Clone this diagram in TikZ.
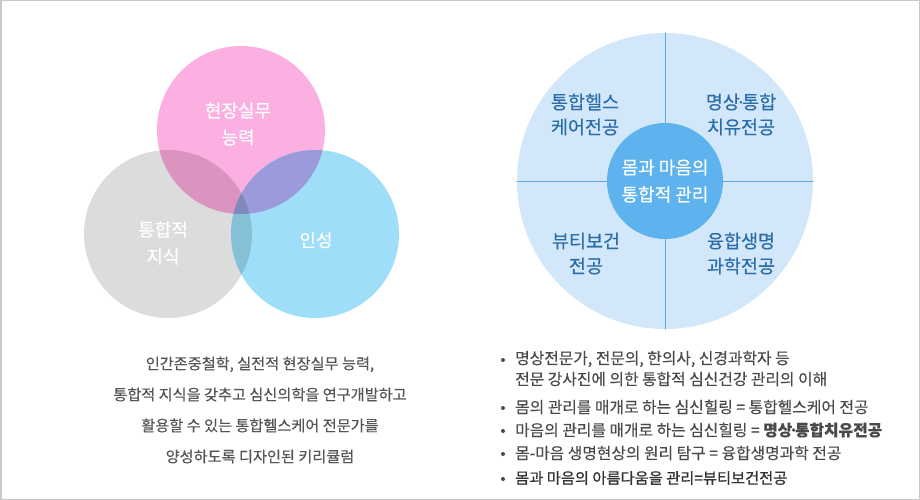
\documentclass[tikz,border=0pt]{standalone}
\usepackage{fontspec}
\usepackage{xcolor}
\setmainfont{Noto Sans CJK KR}[FakeBold=0.35]
\newfontfamily\krheavy{Noto Sans CJK KR}[FakeBold=0.9]
\definecolor{frameGrey}{HTML}{C8C8C8}
\definecolor{vennPink}{HTML}{FCB0E1}
\definecolor{vennGrey}{HTML}{DCDCDC}
\definecolor{vennBlue}{HTML}{9EDEF8}
\definecolor{pinkGrey}{HTML}{DB93C0}
\definecolor{pinkBlue}{HTML}{9B9BDB}
\definecolor{greyBlue}{HTML}{86C0D6}
\definecolor{allThree}{HTML}{8287BC}
\definecolor{wheelPale}{HTML}{D2E8FA}
\definecolor{wheelLine}{HTML}{5FA9E2}
\definecolor{wheelCore}{HTML}{5EB3EE}
\definecolor{wheelInk}{HTML}{2B6DA8}
\definecolor{captionInk}{HTML}{555555}
\definecolor{listInk}{HTML}{4A4A4A}
\tikzset{
  vennText/.style={text=white, align=center, inner sep=0pt, font=\fontsize{18}{27}\selectfont},
  quadText/.style={text=wheelInk, align=center, inner sep=0pt, font=\fontsize{18.5}{25}\selectfont},
  listText/.style={text=listInk, anchor=west, inner sep=0pt, font=\fontsize{15.8}{17}\selectfont},
  listDot/.style={circle, fill=listInk, inner sep=0pt, minimum size=4pt}
}
\newcommand{\middot}{\kern-.22em·\kern-.22em}

\begin{document}
\begin{tikzpicture}[x=1pt, y=-1pt, line cap=round, line join=round]
  \useasboundingbox (0,0) rectangle (920,500);
  % Outer frame
  \draw[frameGrey, line width=1.5pt] (0.75,0.75) rectangle (919.25,499.25);

  % Venn circles
  \fill[vennPink] (241,130) circle (84pt);
  \fill[vennGrey] (168,234) circle (84pt);
  \fill[vennBlue] (315,234) circle (84pt);
  % Overlaps
  \begin{scope}
    \clip (241,130) circle (84pt);
    \fill[pinkGrey] (168,234) circle (84pt);
    \fill[pinkBlue] (315,234) circle (84pt);
  \end{scope}
  \begin{scope}
    \clip (168,234) circle (84pt);
    \fill[greyBlue] (315,234) circle (84pt);
    \clip (241,130) circle (84pt);
    \fill[allThree] (315,234) circle (84pt);
  \end{scope}
  \node[vennText] (practice) at (238,124) {현장실무\\능력};
  \node[vennText] (knowledge) at (163,243) {통합적\\지식};
  \node[vennText] (character) at (316,240) {인성};

  % Caption under the Venn
  \node[text=captionInk, align=center, inner sep=0pt, font=\fontsize{15.2}{31}\selectfont]
    (caption) at (260,410) {인간존중철학, 실전적 현장실무 능력,\\
    통합적 지식을 갖추고 심신의학을 연구개발하고\\
    활용할 수 있는 통합헬스케어 전문가를\\
    양성하도록 디자인된 키리큘럼};

  % Wheel
  \node[circle, fill=wheelPale, minimum size=296pt, inner sep=0pt] (wheel) at (665,181) {};
  \draw[wheelLine, line width=0.8pt] (wheel.north) -- (wheel.south);
  \draw[wheelLine, line width=0.8pt] (wheel.west) -- (wheel.east);
  \node[circle, fill=wheelCore, minimum size=116pt, inner sep=0pt] (core) at (665,181) {};
  \node[vennText] (coreText) at (core) {몸과 마음의\\통합적 관리};
  \node[quadText] (healthcare) at (585,114.5) {통합헬스\\케어전공};
  \node[quadText] (meditation) at (741,114.5) {명상\middot 통합\\치유전공};
  \node[quadText] (beauty) at (586,253.5) {뷰티보건\\전공};
  \node[quadText] (lifesci) at (741,253.5) {융합생명\\과학전공};

  % Bullet list
  \node[listDot] (dotA) at (503,360) {};
  \node[listText] (itemA) at (515,359) {명상전문가, 전문의, 한의사, 신경과학자 등};
  \node[listText] (itemAb) at (515,379) {전문 강사진에 의한 통합적 심신건강 관리의 이해};
  \node[listDot] (dotB) at (503,408) {};
  \node[listText] (itemB) at (515,407) {몸의 관리를 매개로 하는 심신힐링 = 통합헬스케어 전공};
  \node[listDot] (dotC) at (503,431) {};
  \node[listText] (itemC) at (515,430) {마음의 관리를 매개로 하는 심신힐링 = \textbf{명상\middot 통합치유전공}};
  \node[listDot] (dotD) at (503,454) {};
  \node[listText] (itemD) at (515,453) {몸-마음 생명현상의 원리 탐구 = 융합생명과학 전공};
  \node[listDot] (dotE) at (503,479) {};
  \node[listText, text=black!80, font=\fontsize{15.3}{17}\krheavy] (itemE) at (515,478) {몸과 마음의 아름다움을 관리=뷰티보건전공};
\end{tikzpicture}
\end{document}
